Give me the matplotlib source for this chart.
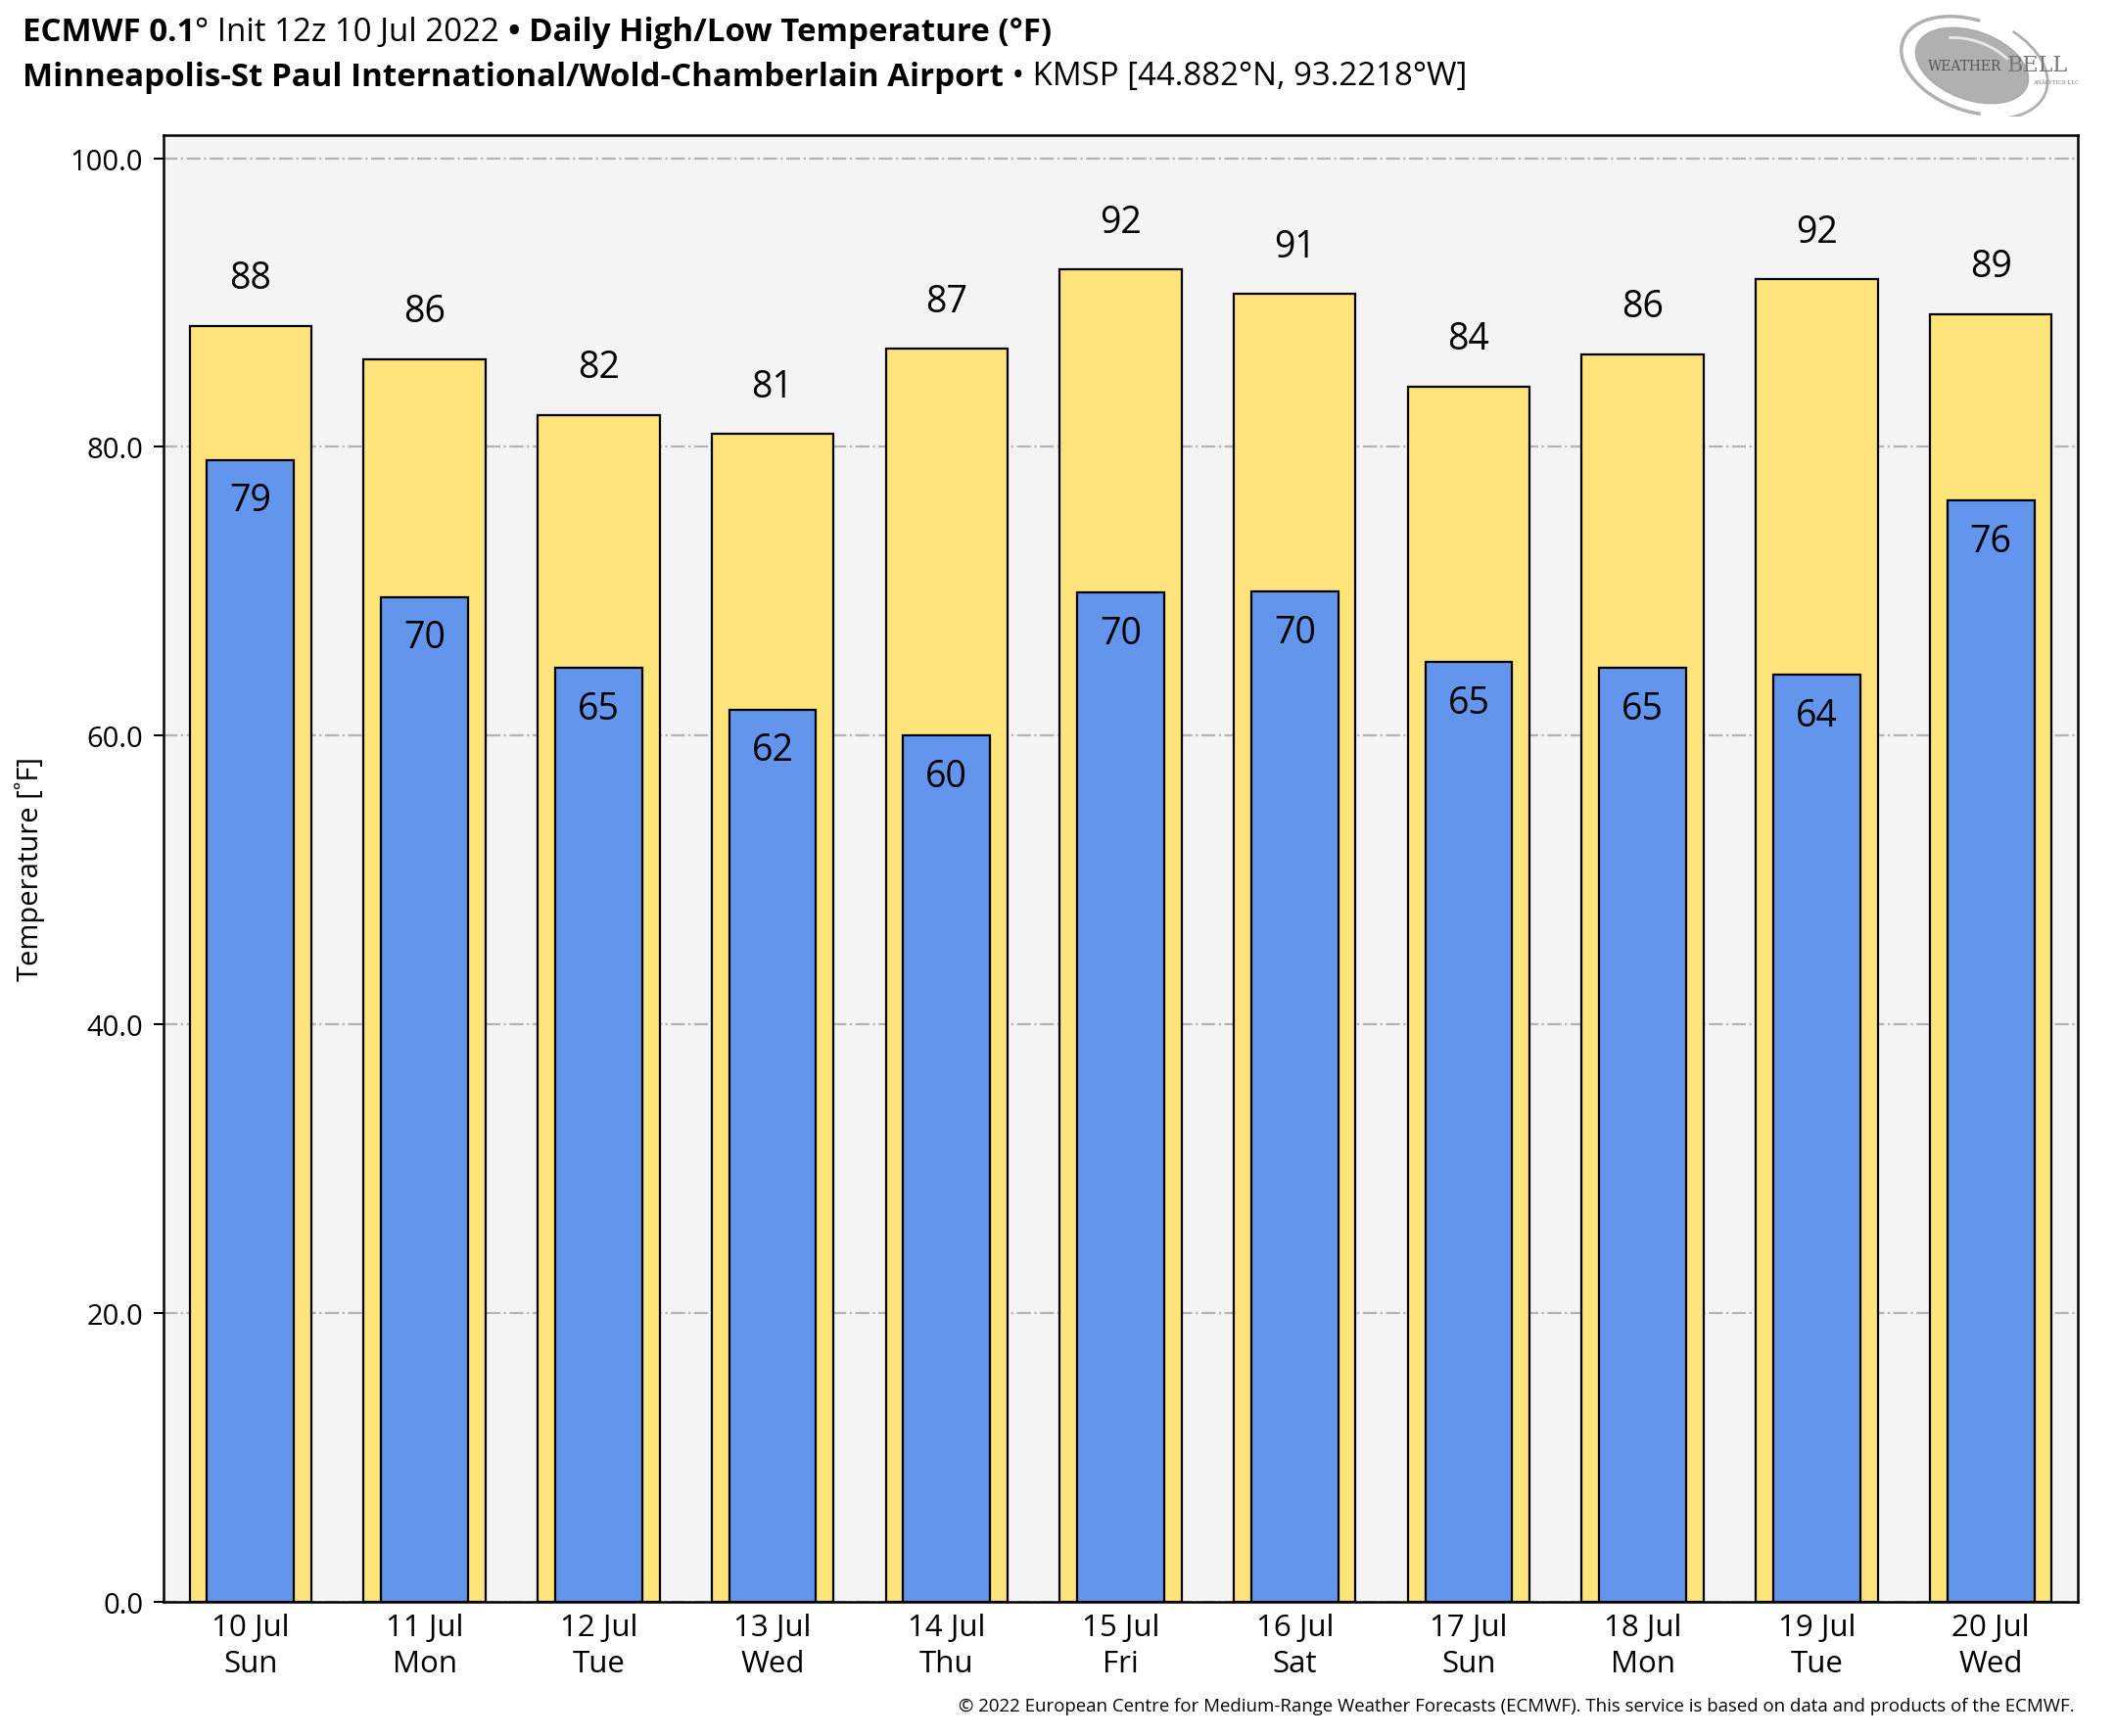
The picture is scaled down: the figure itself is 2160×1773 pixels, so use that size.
import matplotlib
matplotlib.use("Agg")
import matplotlib.pyplot as plt
from matplotlib.patches import Ellipse, Arc
import numpy as np

plt.rcParams['font.family'] = ['Open Sans', 'DejaVu Sans']

dates = ["10 Jul", "11 Jul", "12 Jul", "13 Jul", "14 Jul", "15 Jul",
         "16 Jul", "17 Jul", "18 Jul", "19 Jul", "20 Jul"]
weekdays = ["Sun", "Mon", "Tue", "Wed", "Thu", "Fri", "Sat", "Sun", "Mon", "Tue", "Wed"]
highs = [88.4, 86.1, 82.2, 80.9, 86.8, 92.3, 90.6, 84.2, 86.4, 91.6, 89.2]
lows = [79.1, 69.6, 64.7, 61.8, 60.0, 69.9, 70.0, 65.1, 64.7, 64.2, 76.3]
yticks = [0, 20, 40, 60, 80, 100]

W, H = 2160, 1774
fig = plt.figure(figsize=(W / 100, H / 100), dpi=100)
fig.patch.set_facecolor('white')
ax = fig.add_axes([167 / W, 1 - 1637 / H, (2122 - 167) / W, (1637 - 139) / H])
ax.set_facecolor('#f4f4f4')

x = np.arange(len(dates))
ax.bar(x, highs, width=0.7, color='#fee47a', edgecolor='black', linewidth=1.6, zorder=3)
ax.bar(x, lows, width=0.5, color='#6495ed', edgecolor='black', linewidth=1.6, zorder=4)

for xi, h in zip(x, highs):
    ax.annotate(f"{int(round(h))}", (xi, h), xytext=(0, 35),
                textcoords='offset points', ha='center', va='center', fontsize=27, zorder=5)
for xi, l in zip(x, lows):
    ax.annotate(f"{int(round(l))}", (xi, l), xytext=(0, -30),
                textcoords='offset points', ha='center', va='center', fontsize=27, zorder=5)

ax.set_xlim(-0.5, 10.5)
ax.set_ylim(0, 101.6)
ax.set_yticks(yticks)
ax.set_yticklabels([f"{v:.1f}" for v in yticks])
ax.set_xticks(x)
ax.set_xticklabels([f"{d}\n{w}" for d, w in zip(dates, weekdays)], linespacing=1.3)
ax.tick_params(axis='x', length=0, labelsize=22.5, pad=8)
ax.tick_params(axis='y', length=7, width=1.5, labelsize=21, pad=8)
ax.yaxis.grid(True, linestyle='-.', color='#b4b4b4', linewidth=1.6, zorder=0)
ax.set_axisbelow(True)
for s in ax.spines.values():
    s.set_linewidth(1.8)
    s.set_color('black')
ax.set_ylabel("Temperature [˚F]", fontsize=21)
ax.yaxis.set_label_coords(-0.062, 0.5)

renderer = fig.canvas.get_renderer()


def draw_pieces(pieces, x0, y0, size):
    xc = x0
    for txt, weight in pieces:
        t = fig.text(xc / W, 1 - y0 / H, txt, fontsize=size, fontweight=weight,
                     ha='left', va='center')
        bb = t.get_window_extent(renderer=renderer)
        xc += bb.width


draw_pieces([("ECMWF 0.1", 'bold'), ("° Init 12z 10 Jul 2022 ", 'normal'),
             ("• Daily High/Low Temperature (°F)", 'bold')], 23, 33, 23.8)
draw_pieces([("Minneapolis-St Paul International/Wold-Chamberlain Airport", 'bold'),
             (" • KMSP [44.882°N, 93.2218°W]", 'normal')], 23, 79, 23.8)

fig.text(2119 / W, 1 - 1743 / H,
         "© 2022 European Centre for Medium-Range Weather Forecasts (ECMWF). This service is based on data and products of the ECMWF.",
         fontsize=13.4, ha='right', va='center')

# Logo
lax = fig.add_axes([1929 / W, 1 - 120 / H, 200 / W, 105 / H])
lax.set_xlim(0, 200)
lax.set_ylim(0, 105)
lax.axis('off')
lax.add_patch(Ellipse((85, 52), 120, 70, angle=-20, color='#a8a8a8', alpha=0.9))
lax.add_patch(Arc((85, 52), 150, 92, angle=-20, theta1=100, theta2=300, color='#b0b0b0', lw=2.5))
lax.add_patch(Arc((85, 52), 160, 100, angle=-20, theta1=300, theta2=60, color='#b0b0b0', lw=2))
lax.add_patch(Arc((85, 52), 95, 50, angle=-20, theta1=30, theta2=150, color='#e8e8e8', lw=2))
lax.text(40, 52, "WEATHER", fontsize=10, family='DejaVu Serif', color='#555555', va='center', ha='left')
lax.text(121, 53, "BELL", fontsize=16, family='DejaVu Serif', color='#777777', va='center', ha='left')
lax.text(194, 36, "ANALYTICS LLC", fontsize=4, family='DejaVu Serif', color='#777777', va='center', ha='right')

fig.savefig("out.png", dpi=100)
